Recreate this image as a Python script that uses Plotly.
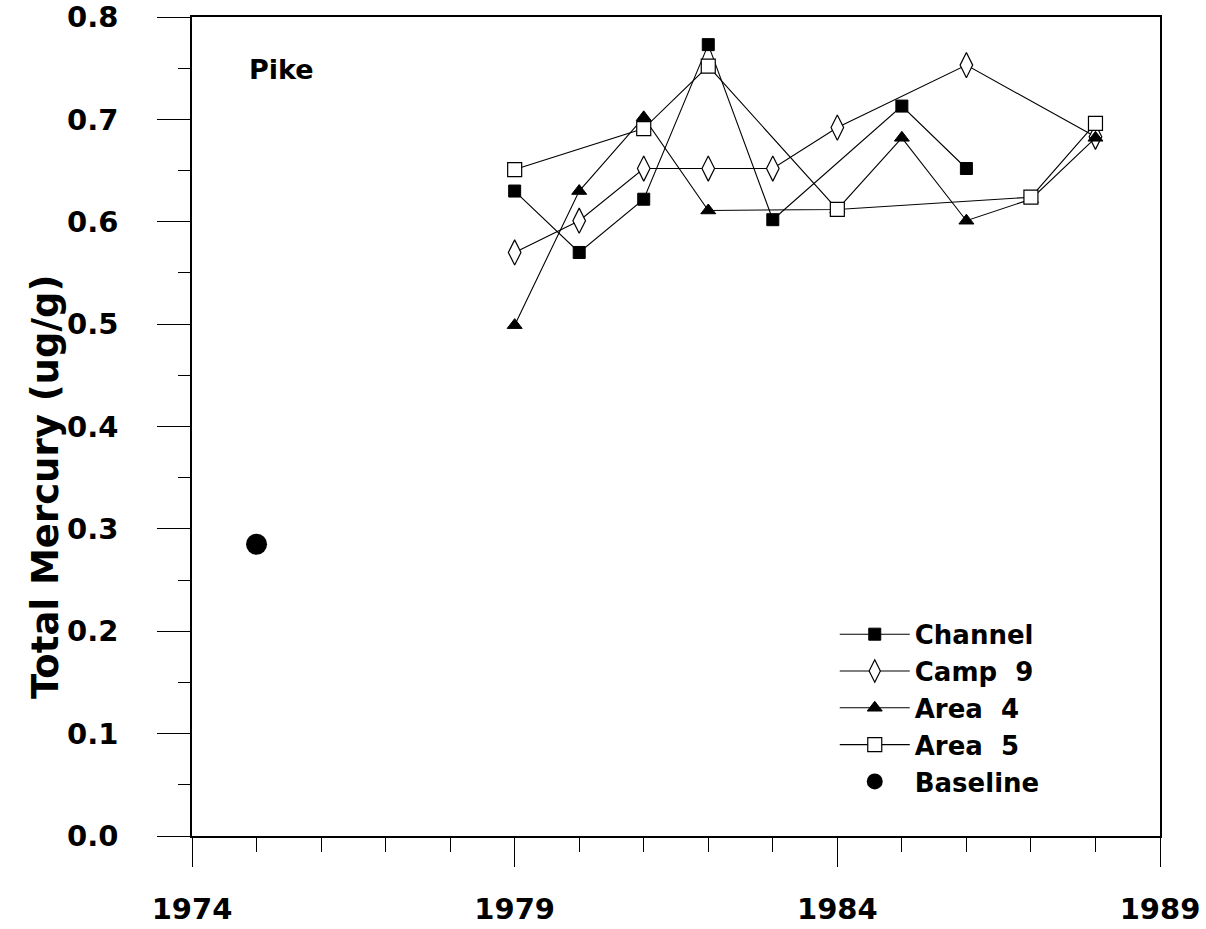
import plotly.graph_objects as go

# ---- data ----
channel_years = [1979, 1980, 1981, 1982, 1983, 1985, 1986]
channel_vals = [0.630, 0.570, 0.622, 0.773, 0.602, 0.713, 0.652]

camp9_years = [1979, 1980, 1981, 1982, 1983, 1984, 1986, 1988]
camp9_vals = [0.570, 0.601, 0.652, 0.652, 0.652, 0.692, 0.753, 0.683]

area4_years = [1979, 1980, 1981, 1982, 1984, 1985, 1986, 1987, 1988]
area4_vals = [0.499, 0.630, 0.702, 0.611, 0.612, 0.682, 0.601, 0.622, 0.682]

area5_years = [1979, 1981, 1982, 1984, 1987, 1988]
area5_vals = [0.651, 0.691, 0.752, 0.612, 0.624, 0.696]

baseline_years = [1975]
baseline_vals = [0.285]

x_ticks = [1974, 1979, 1984, 1989]

FONT = "DejaVu Sans"
BLACK = "black"

fig = go.Figure()

fig.add_trace(go.Scatter(
    x=channel_years, y=channel_vals, name="Channel", mode="lines+markers",
    line=dict(color=BLACK, width=1.1),
    marker=dict(symbol="square", size=12, color=BLACK, line=dict(color=BLACK, width=1)),
))
fig.add_trace(go.Scatter(
    x=camp9_years, y=camp9_vals, name="Camp  9", mode="lines+markers",
    line=dict(color=BLACK, width=1.1),
    marker=dict(symbol="diamond-tall", size=18, color="white", line=dict(color=BLACK, width=1.2)),
))
fig.add_trace(go.Scatter(
    x=area4_years, y=area4_vals, name="Area  4", mode="lines+markers",
    line=dict(color=BLACK, width=1.1),
    marker=dict(symbol="triangle-up", size=13, color=BLACK, line=dict(color=BLACK, width=1)),
))
fig.add_trace(go.Scatter(
    x=area5_years, y=area5_vals, name="Area  5", mode="lines+markers",
    line=dict(color=BLACK, width=1.1),
    marker=dict(symbol="square", size=14, color="white", line=dict(color=BLACK, width=1.2)),
))
fig.add_trace(go.Scatter(
    x=baseline_years, y=baseline_vals, name="Baseline", mode="markers",
    marker=dict(symbol="circle", size=21, color=BLACK),
))

fig.add_annotation(
    x=1974.85, y=0.749, xref="x", yref="y", text="Pike", showarrow=False,
    xanchor="left", yanchor="middle",
    font=dict(family=FONT, size=27, color=BLACK, weight="bold"),
)

# y-axis title placed as a rotated annotation to match its offset position
fig.add_annotation(
    x=-0.152, y=0.426, xref="paper", yref="paper", text="Total Mercury (ug/g)",
    showarrow=False, textangle=-90, xanchor="center", yanchor="middle",
    font=dict(family=FONT, size=37, color=BLACK, weight="bold"),
)

fig.update_layout(
    width=1206, height=929,
    margin=dict(l=192, r=46, t=17, b=93, autoexpand=False),
    paper_bgcolor="white", plot_bgcolor="white",
    font=dict(family=FONT, color=BLACK),
    showlegend=True,
    legend=dict(
        x=0.664, y=0.275, xanchor="left", yanchor="top",
        bgcolor="rgba(0,0,0,0)", borderwidth=0,
        font=dict(family=FONT, size=26, color=BLACK, weight="bold"),
        itemwidth=70,
    ),
    xaxis=dict(
        range=[1974, 1989], tickmode="array", tickvals=x_ticks,
        ticktext=[str(v) for v in x_ticks],
        showgrid=False, zeroline=False, automargin=False,
        showline=True, linecolor=BLACK, linewidth=1.5, mirror=True,
        ticks="outside", ticklen=29, tickwidth=1, tickcolor=BLACK,
        minor=dict(dtick=1, tick0=1974, ticks="outside", ticklen=14, tickwidth=1, tickcolor=BLACK, showgrid=False),
        tickfont=dict(family=FONT, size=29, color=BLACK, weight="bold"),
        ticklabelstandoff=17,
    ),
    yaxis=dict(
        range=[0, 0.8], tick0=0, dtick=0.1, tickformat=".1f",
        showgrid=False, zeroline=False, automargin=False,
        showline=True, linecolor=BLACK, linewidth=1.5, mirror=True,
        ticks="outside", ticklen=33, tickwidth=1, tickcolor=BLACK,
        minor=dict(dtick=0.05, tick0=0, ticks="outside", ticklen=12, tickwidth=1, tickcolor=BLACK, showgrid=False),
        tickfont=dict(family=FONT, size=29, color=BLACK, weight="bold"),
        ticklabelstandoff=33,
    ),
)

fig.write_html("out.html")
